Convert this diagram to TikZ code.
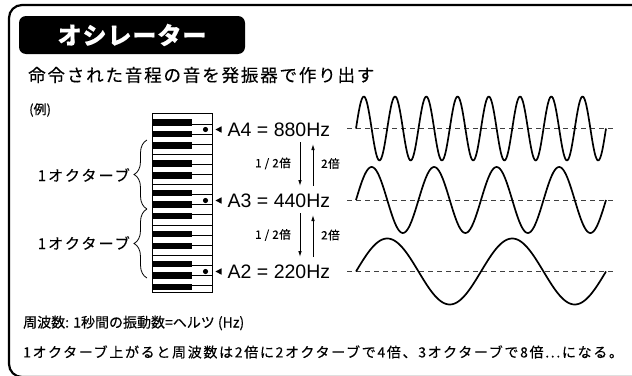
\documentclass[tikz,border=0pt]{standalone}
\usepackage{fontspec}
\setmainfont{Liberation Sans}
\newfontfamily\jp{Noto Sans CJK JP}[FakeBold=0.3]
\usetikzlibrary{arrows.meta,decorations.pathreplacing}
\newcommand\jpsz[2]{\jp\fontsize{#1}{#1}\selectfont\addfontfeature{LetterSpace=#2}}
\begin{document}
\begin{tikzpicture}[x=1pt,y=-1pt,
  wave/.style={line width=1.7pt, line join=round},
  zeroline/.style={line width=0.8pt, draw=black!75, dash pattern=on 5pt off 4pt},
  freqlabel/.style={anchor=west, inner sep=0pt, font=\fontsize{19.5}{22}\selectfont},
  ratio/.style={inner sep=0pt, font=\jpsz{11.5}{5}},
  octlabel/.style={anchor=east, inner sep=0pt, font=\jpsz{15}{14}},
  vert/.style={line width=0.9pt, -{Latex[length=6pt,width=3.6pt]}},
  octbrace/.style={line width=0.8pt, decorate, decoration={brace, amplitude=13pt}},
  keyline/.style={line width=0.7pt}]
\useasboundingbox (0,0) rectangle (632,375);
\clip (0,0) rectangle (632,375);
% frame
\draw[line width=2.2pt, rounded corners=13pt] (9,5) rectangle (700,377);
% title
\node[fill=black, rounded corners=7pt, minimum width=226pt, minimum height=38pt, inner sep=0pt,
      text=white, font=\jpsz{24}{4}\bfseries] (title) at (132,35) {オシレーター};
\node[anchor=west, inner sep=0pt, font=\jpsz{17.5}{10.5}] (sub) at (28,75) {命令された音程の音を発振器で作り出す};
\node[anchor=west, inner sep=0pt, font=\jpsz{13}{0}] (ex) at (29,110) {(例)};
% keyboard
\def\kw{10.1}
\def\ktop{113.8}
\def\kbot{292}
\begin{scope}
\clip (152,\ktop) rectangle (212,\kbot);
\fill[white] (152,\ktop) rectangle (212,\kbot);
\foreach \k in {1,...,18} \draw[keyline] (152,{\ktop+\k*\kw}) -- (212,{\ktop+\k*\kw});
\foreach \o in {0,1,2}
  \foreach \c in {0.857,2,3.143,4.9,6.1}
    \fill (150,{\ktop+(\o*7+\c)*\kw-3.25}) rectangle (192,{\ktop+(\o*7+\c)*\kw+3.25});
\end{scope}
\draw[line width=0.9pt] (152,\ktop) rectangle (212,\kbot);
\node[coordinate] (kbtop) at (147,140) {};
\node[coordinate] (kbmid) at (147,209) {};
\node[coordinate] (kbbot) at (147,278) {};
\draw[octbrace] (kbmid) -- (kbtop);
\draw[octbrace] (kbbot) -- (kbmid);
\node[octlabel] (oct1) at (130,175) {1オクターブ};
\node[octlabel] (oct2) at (130,243) {1オクターブ};
% A marks
\foreach \y/\n/\t in {129.5/a4/A4 = 880Hz, 200.5/a3/A3 = 440Hz, 271.5/a2/A2 = 220Hz}{
  \fill (205.5,\y) circle (2.6pt);
  \fill (215.5,\y) -- (221.5,\y-3.2) -- (221.5,\y+3.2) -- cycle;
  \node[freqlabel] (\n) at (227.5,\y) {\t};
}
% arrows
\node[coordinate] (d1a) at (300,142) {};
\node[coordinate] (d1b) at (300,186) {};
\node[coordinate] (u1a) at (313,186) {};
\node[coordinate] (u1b) at (313,144) {};
\node[coordinate] (d2a) at (300,213) {};
\node[coordinate] (d2b) at (300,257) {};
\node[coordinate] (u2a) at (313,257) {};
\node[coordinate] (u2b) at (313,215) {};
\draw[vert] (d1a) -- (d1b);
\draw[vert] (u1a) -- (u1b);
\draw[vert] (d2a) -- (d2b);
\draw[vert] (u2a) -- (u2b);
\node[ratio, anchor=east] (h1) at (291,163.5) {1 / 2倍};
\node[ratio, anchor=west] (t1) at (321,163.5) {2倍};
\node[ratio, anchor=east] (h2) at (291,235) {1 / 2倍};
\node[ratio, anchor=west] (t2) at (321,235) {2倍};
% zero lines
\node[coordinate] (z4a) at (347,128.5) {};
\node[coordinate] (z4b) at (614,128.5) {};
\node[coordinate] (z3a) at (347,200) {};
\node[coordinate] (z3b) at (614,200) {};
\node[coordinate] (z2a) at (347,271.5) {};
\node[coordinate] (z2b) at (614,271.5) {};
\draw[zeroline] (z4a) -- (z4b);
\draw[zeroline] (z3a) -- (z3b);
\draw[zeroline] (z2a) -- (z2b);
% waves
\draw[wave] plot[domain=0:250, samples=260, smooth] ({356+\x},{128.5-32*sin(\x*11.52)});
\draw[wave] plot[domain=0:250, samples=200, smooth] ({356+\x},{200-33*sin(\x*5.76)});
\draw[wave] plot[domain=0:250, samples=160, smooth] ({356+\x},{271.5-33*sin(\x*2.88)});
% bottom notes
\node[anchor=west, inner sep=0pt, font=\jpsz{14}{0}] (n1) at (23,323) {周波数: 1秒間の振動数=ヘルツ (Hz)};
\node[anchor=west, inner sep=0pt, font=\jpsz{14}{12}] (n2) at (23,352) {1オクターブ上がると周波数は2倍に2オクターブで4倍、3オクターブで8倍...になる。};
\end{tikzpicture}
\end{document}
